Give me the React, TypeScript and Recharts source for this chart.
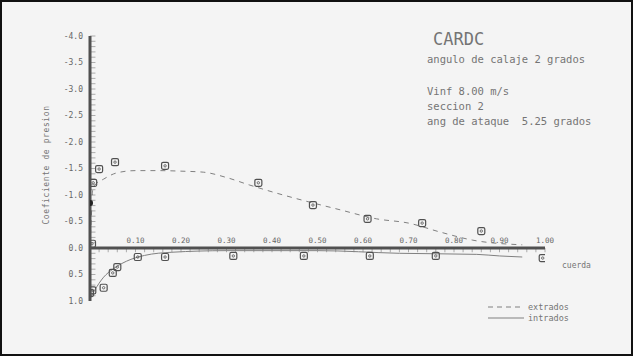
import React from "react";
import {
  ComposedChart,
  Line,
  Scatter,
  XAxis,
  YAxis,
  ReferenceLine,
  ReferenceDot,
} from "recharts";

// measured pressure coefficients, upper surface (extrados)
const extradosX = [0.007, 0.02, 0.055, 0.165, 0.37, 0.49, 0.61, 0.73, 0.86];
const extradosCp = [-1.23, -1.49, -1.62, -1.55, -1.23, -0.81, -0.55, -0.47, -0.32];

// measured pressure coefficients, lower surface (intrados)
const intradosX = [0, 0.005, 0.03, 0.05, 0.06, 0.105, 0.165, 0.315, 0.47, 0.615, 0.76, 0.995];
const intradosCp = [0.85, 0.8, 0.75, 0.47, 0.36, 0.17, 0.17, 0.15, 0.15, 0.15, 0.15, 0.19];

// leading edge tap
const edgeX = [0, 0];
const edgeCp = [-0.08, -0.85];

// calculated distributions
const calcUpperX = [0, 0.003, 0.006, 0.01, 0.03, 0.06, 0.1, 0.15, 0.2, 0.25, 0.3, 0.35, 0.4, 0.45, 0.55, 0.63, 0.7, 0.77, 0.84, 0.95];
const calcUpperCp = [-0.05, -0.6, -1.1, -1.18, -1.3, -1.42, -1.46, -1.46, -1.45, -1.43, -1.33, -1.19, -1.06, -0.94, -0.72, -0.55, -0.47, -0.3, -0.15, -0.06];

const calcLowerX = [0, 0.01, 0.03, 0.05, 0.08, 0.12, 0.18, 0.3, 0.5, 0.68, 0.85, 0.9, 0.95];
const calcLowerCp = [0.95, 0.8, 0.55, 0.4, 0.25, 0.14, 0.08, 0.05, 0.05, 0.1, 0.12, 0.15, 0.17];

const yTicks = [-4, -3.5, -3, -2.5, -2, -1.5, -1, -0.5, 0, 0.5, 1];
const xTicks = [0.1, 0.2, 0.3, 0.4, 0.5, 0.6, 0.7, 0.8, 0.9, 1.0];

const zip = (xs: number[], ys: number[]) => xs.map((x, i) => ({ x, cp: ys[i] }));

const upperPts = zip(extradosX, extradosCp);
const lowerPts = zip(intradosX, intradosCp);
const edgePts = zip(edgeX, edgeCp);
const upperCurve = zip(calcUpperX, calcUpperCp);
const lowerCurve = zip(calcLowerX, calcLowerCp);

const minorX = Array.from({ length: 50 }, (_, i) => (i + 1) * 0.02);
const minorY = Array.from({ length: 50 }, (_, i) => -4 + i * 0.1);

const INK = "#505050";
const MONO = "'DejaVu Sans Mono', 'Liberation Mono', monospace";

const SquareMark = (props: any) => {
  const { cx, cy } = props;
  if (cx == null || cy == null) return null;
  return (
    <g>
      <rect x={cx - 3.5} y={cy - 3.5} width={7} height={7} rx={1.5} fill="none" stroke={INK} strokeWidth={1.2} />
      <circle cx={cx} cy={cy} r={1.2} fill="none" stroke={INK} strokeWidth={0.8} />
    </g>
  );
};

const EdgeMark = (props: any) => {
  const { cx, cy, payload } = props;
  if (cx == null || cy == null) return null;
  if (payload.cp < -0.5) return <circle cx={cx} cy={cy} r={3} fill="#222" />;
  return <SquareMark cx={cx + 2} cy={cy} />;
};

const textStyle: React.CSSProperties = {
  position: "absolute",
  fontFamily: MONO,
  color: "#747474",
  whiteSpace: "pre",
  lineHeight: 1,
};

export default function App() {
  return (
    <div
      style={{
        position: "fixed",
        left: 0,
        top: 0,
        width: 633,
        height: 356,
        background: "#f4f4f4",
        boxShadow: "inset 0 0 0 2px #111",
        overflow: "hidden",
      }}
    >
      <ComposedChart width={633} height={356} margin={{ top: 36, right: 88, bottom: 55, left: 0 }}>
        <XAxis dataKey="x" type="number" domain={[0, 1]} hide allowDataOverflow />
        <YAxis
          dataKey="cp"
          type="number"
          domain={[-4, 1]}
          reversed
          ticks={yTicks}
          width={90}
          tickSize={0}
          tickMargin={7}
          tickLine={false}
          axisLine={{ stroke: INK, strokeWidth: 3 }}
          tickFormatter={(v: number) => v.toFixed(1)}
          tick={{ fontSize: 8, fill: "#666", fontFamily: MONO }}
          allowDataOverflow
        />
        {minorY.map((v) => (
          <ReferenceLine
            key={"my" + v}
            segment={[{ x: 0, y: v }, { x: 0.012, y: v }]}
            stroke="#999"
            strokeWidth={0.8}
            ifOverflow="visible"
          />
        ))}
        {minorX.map((v) => (
          <ReferenceLine
            key={"mx" + v}
            segment={[{ x: v, y: 0 }, { x: v, y: 0.08 }]}
            stroke="#999"
            strokeWidth={0.8}
            ifOverflow="visible"
          />
        ))}
        <ReferenceLine y={0} stroke={INK} strokeWidth={3} />
        {xTicks.map((v) => (
          <ReferenceDot
            key={"xt" + v}
            x={v}
            y={0}
            r={0}
            fill="none"
            stroke="none"
            label={{ value: v.toFixed(2), position: "top", offset: 5, fontSize: 7.5, fill: "#666", fontFamily: MONO }}
          />
        ))}
        <Line
          data={upperCurve}
          dataKey="cp"
          type="monotone"
          stroke="#808080"
          strokeWidth={1}
          strokeDasharray="5 5"
          dot={false}
          isAnimationActive={false}
        />
        <Line
          data={lowerCurve}
          dataKey="cp"
          type="monotone"
          stroke="#808080"
          strokeWidth={1}
          dot={false}
          isAnimationActive={false}
        />
        <Scatter data={upperPts} dataKey="cp" shape={<SquareMark />} isAnimationActive={false} />
        <Scatter data={lowerPts} dataKey="cp" shape={<SquareMark />} isAnimationActive={false} />
        <Scatter data={edgePts} dataKey="cp" shape={<EdgeMark />} isAnimationActive={false} />
      </ComposedChart>

      <div
        style={{
          ...textStyle,
          fontSize: 8,
          left: 47,
          top: 165,
          transform: "translate(-50%, -50%) rotate(-90deg)",
          letterSpacing: 0.6,
        }}
      >
        Coeficiente de presion
      </div>
      <div style={{ ...textStyle, fontSize: 8, left: 562, top: 262 }}>cuerda</div>

      <div style={{ ...textStyle, fontSize: 17, left: 433, top: 31 }}>CARDC</div>
      <div style={{ ...textStyle, fontSize: 10.5, left: 427, top: 54 }}>angulo de calaje 2 grados</div>
      <div style={{ ...textStyle, fontSize: 10.5, left: 427, top: 86 }}>Vinf 8.00 m/s</div>
      <div style={{ ...textStyle, fontSize: 10.5, left: 427, top: 101 }}>seccion 2</div>
      <div style={{ ...textStyle, fontSize: 10.5, left: 427, top: 116 }}>ang de ataque  5.25 grados</div>

      <svg style={{ position: "absolute", left: 486, top: 301 }} width={40} height={24}>
        <line x1={2} y1={6} x2={38} y2={6} stroke="#808080" strokeWidth={1} strokeDasharray="5 4" />
        <line x1={2} y1={17} x2={38} y2={17} stroke="#808080" strokeWidth={1} />
      </svg>
      <div style={{ ...textStyle, fontSize: 8.5, left: 528, top: 303 }}>extrados</div>
      <div style={{ ...textStyle, fontSize: 8.5, left: 528, top: 314 }}>intrados</div>
    </div>
  );
}
